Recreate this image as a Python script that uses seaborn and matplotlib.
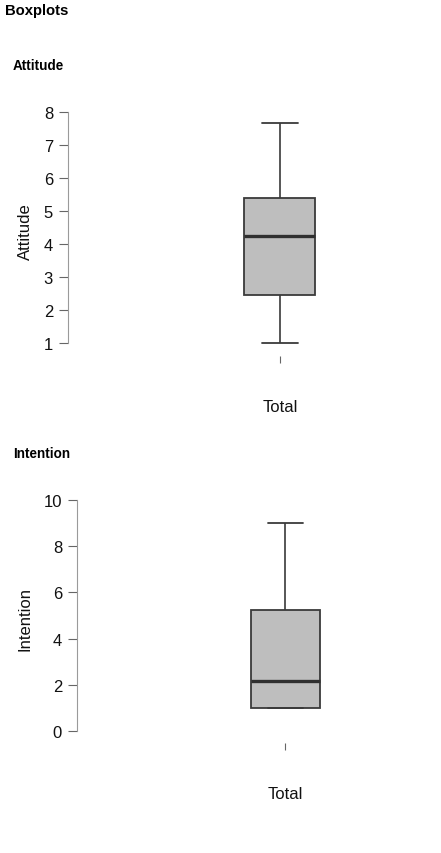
import numpy as np
import pandas as pd
import matplotlib
matplotlib.use("Agg")
import matplotlib.pyplot as plt
import seaborn as sns

# Five-number summaries: min, Q1, median, Q3, max
group_label = ["Total"]
attitude_vals = [1.0, 2.45, 4.23, 5.38, 7.66]
intention_vals = [1.0, 1.0, 2.16, 5.25, 9.0]
attitude_ticks = [1, 2, 3, 4, 5, 6, 7, 8]
intention_ticks = [0, 2, 4, 6, 8, 10]

sns.set_style("white")
plt.rcParams['font.family'] = ['Liberation Sans', 'DejaVu Sans']

W, H = 441, 854
fig = plt.figure(figsize=(W / 100, H / 100), dpi=100)

def px_axes(left, top, right, bottom):
    return fig.add_axes([left / W, 1 - bottom / H, (right - left) / W, (bottom - top) / H])

FILL = "#bebebe"
EDGE = "#3a3a3a"
SPINE = "#9a9a9a"
TICK = "#666666"

def panel(ax, vals, name, ticks, ylim, xlim):
    df = pd.DataFrame({"group": group_label * len(vals), name: vals})
    sns.boxplot(data=df, x="group", y=name, ax=ax, width=0.5, color=FILL,
                linecolor=EDGE, linewidth=1.2, fliersize=0, whis=1.5,
                saturation=1,
                medianprops=dict(color="#303030", linewidth=2.4),
                boxprops=dict(facecolor=FILL, edgecolor=EDGE, linewidth=1.3),
                whiskerprops=dict(color=EDGE, linewidth=1.2),
                capprops=dict(color=EDGE, linewidth=1.3))
    ax.set_ylim(*ylim)
    ax.set_xlim(*xlim)
    ax.set_yticks(ticks)
    ax.set_yticklabels([str(t) for t in ticks])
    for s in ["top", "right", "bottom"]:
        ax.spines[s].set_visible(False)
    ax.spines["left"].set_bounds(ticks[0], ticks[-1])
    ax.spines["left"].set_color(SPINE)
    ax.spines["left"].set_linewidth(0.8)
    ax.tick_params(axis="y", direction="out", length=6.5, width=0.8, color=TICK,
                   labelsize=12, labelcolor="#111111", pad=4.5, left=True)
    ax.tick_params(axis="x", direction="out", length=5, width=0.8, color=TICK,
                   labelsize=12, labelcolor="#111111", pad=26, bottom=True)
    ax.set_xlabel("")
    ax.set_ylabel(name, fontsize=12, color="#111111", labelpad=8)
    ax.set_facecolor("white")

# Panel 1: Attitude
ax1 = px_axes(68.3, 106.4, 430, 357)
panel(ax1, attitude_vals, "Attitude", attitude_ticks, (0.606, 8.2), (-1.49, 1.056))

# Panel 2: Intention
ax2 = px_axes(77.3, 494, 430, 744)
panel(ax2, intention_vals, "Intention", intention_ticks, (-0.506, 10.3), (-1.50, 1.044))

fig.text(5 / W, 1 - 15 / H, "Boxplots", fontsize=10.75, fontweight="bold", va="baseline", ha="left", color="black")
fig.text(13 / W, 1 - 70 / H, "Attitude", fontsize=9.75, fontweight="bold", va="baseline", ha="left", color="black")
fig.text(13 / W, 1 - 458 / H, "Intention", fontsize=9.75, fontweight="bold", va="baseline", ha="left", color="black")

fig.savefig("out.png", dpi=100, facecolor="white")
